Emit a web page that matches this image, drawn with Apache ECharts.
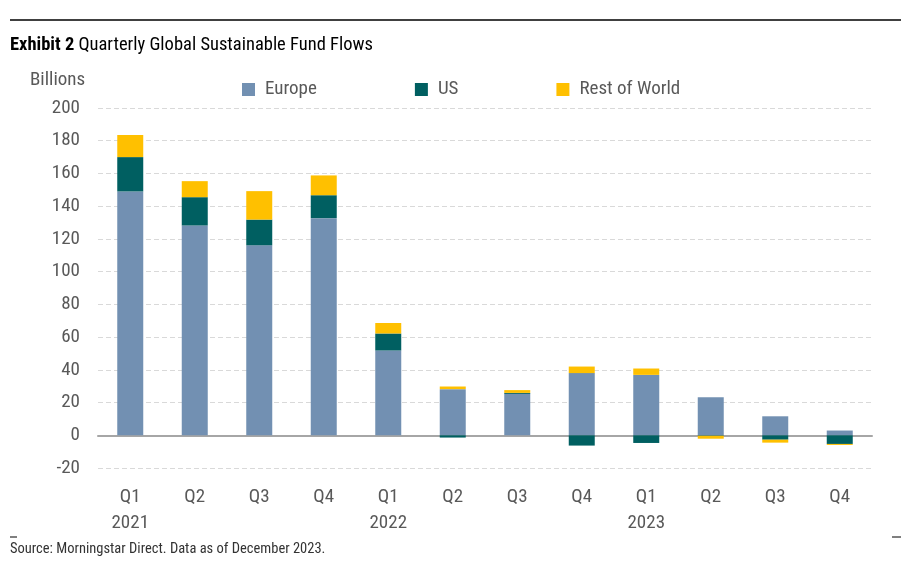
<!DOCTYPE html>
<html>
<head>
<meta charset="utf-8">
<script src="https://cdn.jsdelivr.net/npm/echarts@6/dist/echarts.min.js"></script>
<style>
html,body{margin:0;padding:0;background:#fff;}
#c{width:924px;height:562px;}
</style>
</head>
<body>
<div id="c"></div>
<script>
var quarters = ['Q1','Q2','Q3','Q4','Q1','Q2','Q3','Q4','Q1','Q2','Q3','Q4'];
var years = ['2021','','','','2022','','','','2023','','',''];
var europe = [149, 128.2, 116.1, 132.7, 51.8, 28.2, 25.3, 38, 36.9, 23.3, 11.6, 2.9];
var us = [21, 17.3, 15.7, 14, 10.4, -1.4, 0.6, -6.3, -4.7, -0.3, -2.7, -5.3];
var restOfWorld = [13.5, 9.8, 17.4, 12.1, 6.4, 1.6, 1.7, 4, 3.9, -1.8, -1.8, -0.6];
var yTicks = [-20, 0, 20, 40, 60, 80, 100, 120, 140, 160, 180, 200];

var FONT = "'Liberation Sans Narrow', 'Roboto Condensed', Roboto, sans-serif";
var categories = quarters.map(function(q, i){ return years[i] ? q + '\n' + years[i] : q; });

var chart = echarts.init(document.getElementById('c'));
chart.setOption({
  animation: false,
  textStyle: {fontFamily: FONT},
  title: {
    left: 5, top: 31,
    text: '{b|Exhibit 2} {n|Quarterly Global Sustainable Fund Flows}',
    textStyle: {
      fontWeight: 'normal',
      rich: {
        b: {fontFamily: FONT, fontWeight: 'bold', fontSize: 18.5, color: '#000'},
        n: {fontFamily: FONT, fontWeight: 'normal', fontSize: 18.5, color: '#000'}
      }
    }
  },
  legend: {
    left: 237, top: 75,
    icon: 'rect', itemWidth: 13, itemHeight: 13, itemGap: 98,
    textStyle: {fontFamily: FONT, fontSize: 19, color: '#595959', padding: [0, 0, 0, 5]},
    data: ['Europe', 'US', 'Rest of World']
  },
  grid: {left: 98, right: 52, top: 108, bottom: 94, containLabel: false},
  xAxis: [{
    type: 'category', data: categories, position: 'bottom',
    axisLine: {show: false, onZero: false},
    axisTick: {show: false},
    axisLabel: {fontFamily: FONT, fontSize: 19, color: '#595959', margin: 16, lineHeight: 26, interval: 0}
  }, {
    type: 'category', data: categories, position: 'bottom',
    axisLine: {show: true, onZero: true, lineStyle: {color: '#a6a6a6', width: 2}},
    axisTick: {show: false}, axisLabel: {show: false}
  }],
  yAxis: {
    type: 'value', min: yTicks[0], max: yTicks[yTicks.length-1], interval: 20,
    axisLine: {show: false}, axisTick: {show: false},
    axisLabel: {fontFamily: FONT, fontSize: 19, color: '#595959', margin: 18},
    splitLine: {lineStyle: {color: '#d9d9d9', type: [5, 3], width: 1}}
  },
  graphic: [
    {type: 'line', shape: {x1: 10, y1: 20, x2: 901, y2: 20}, style: {stroke: '#000', lineWidth: 1.5}},
    {type: 'line', shape: {x1: 10, y1: 537, x2: 17, y2: 537}, style: {stroke: '#000', lineWidth: 1}},
    {type: 'line', shape: {x1: 892, y1: 537, x2: 901, y2: 537}, style: {stroke: '#000', lineWidth: 1}},
    {type: 'text', left: 30, top: 71, style: {text: 'Billions', fontFamily: FONT, fontSize: 19, fill: '#595959'}},
    {type: 'text', left: 10, top: 542, style: {text: 'Source: Morningstar Direct. Data as of December 2023.', fontFamily: FONT, fontSize: 14.5, fill: '#333'}}
  ],
  series: [
    {name: 'Europe', type: 'bar', stack: 'total', data: europe, barWidth: 26, itemStyle: {color: '#7290b2'}},
    {name: 'US', type: 'bar', stack: 'total', data: us, barWidth: 26, itemStyle: {color: '#005f61'}},
    {name: 'Rest of World', type: 'bar', stack: 'total', data: restOfWorld, barWidth: 26, itemStyle: {color: '#ffc000'}}
  ]
});
</script>
</body>
</html>
